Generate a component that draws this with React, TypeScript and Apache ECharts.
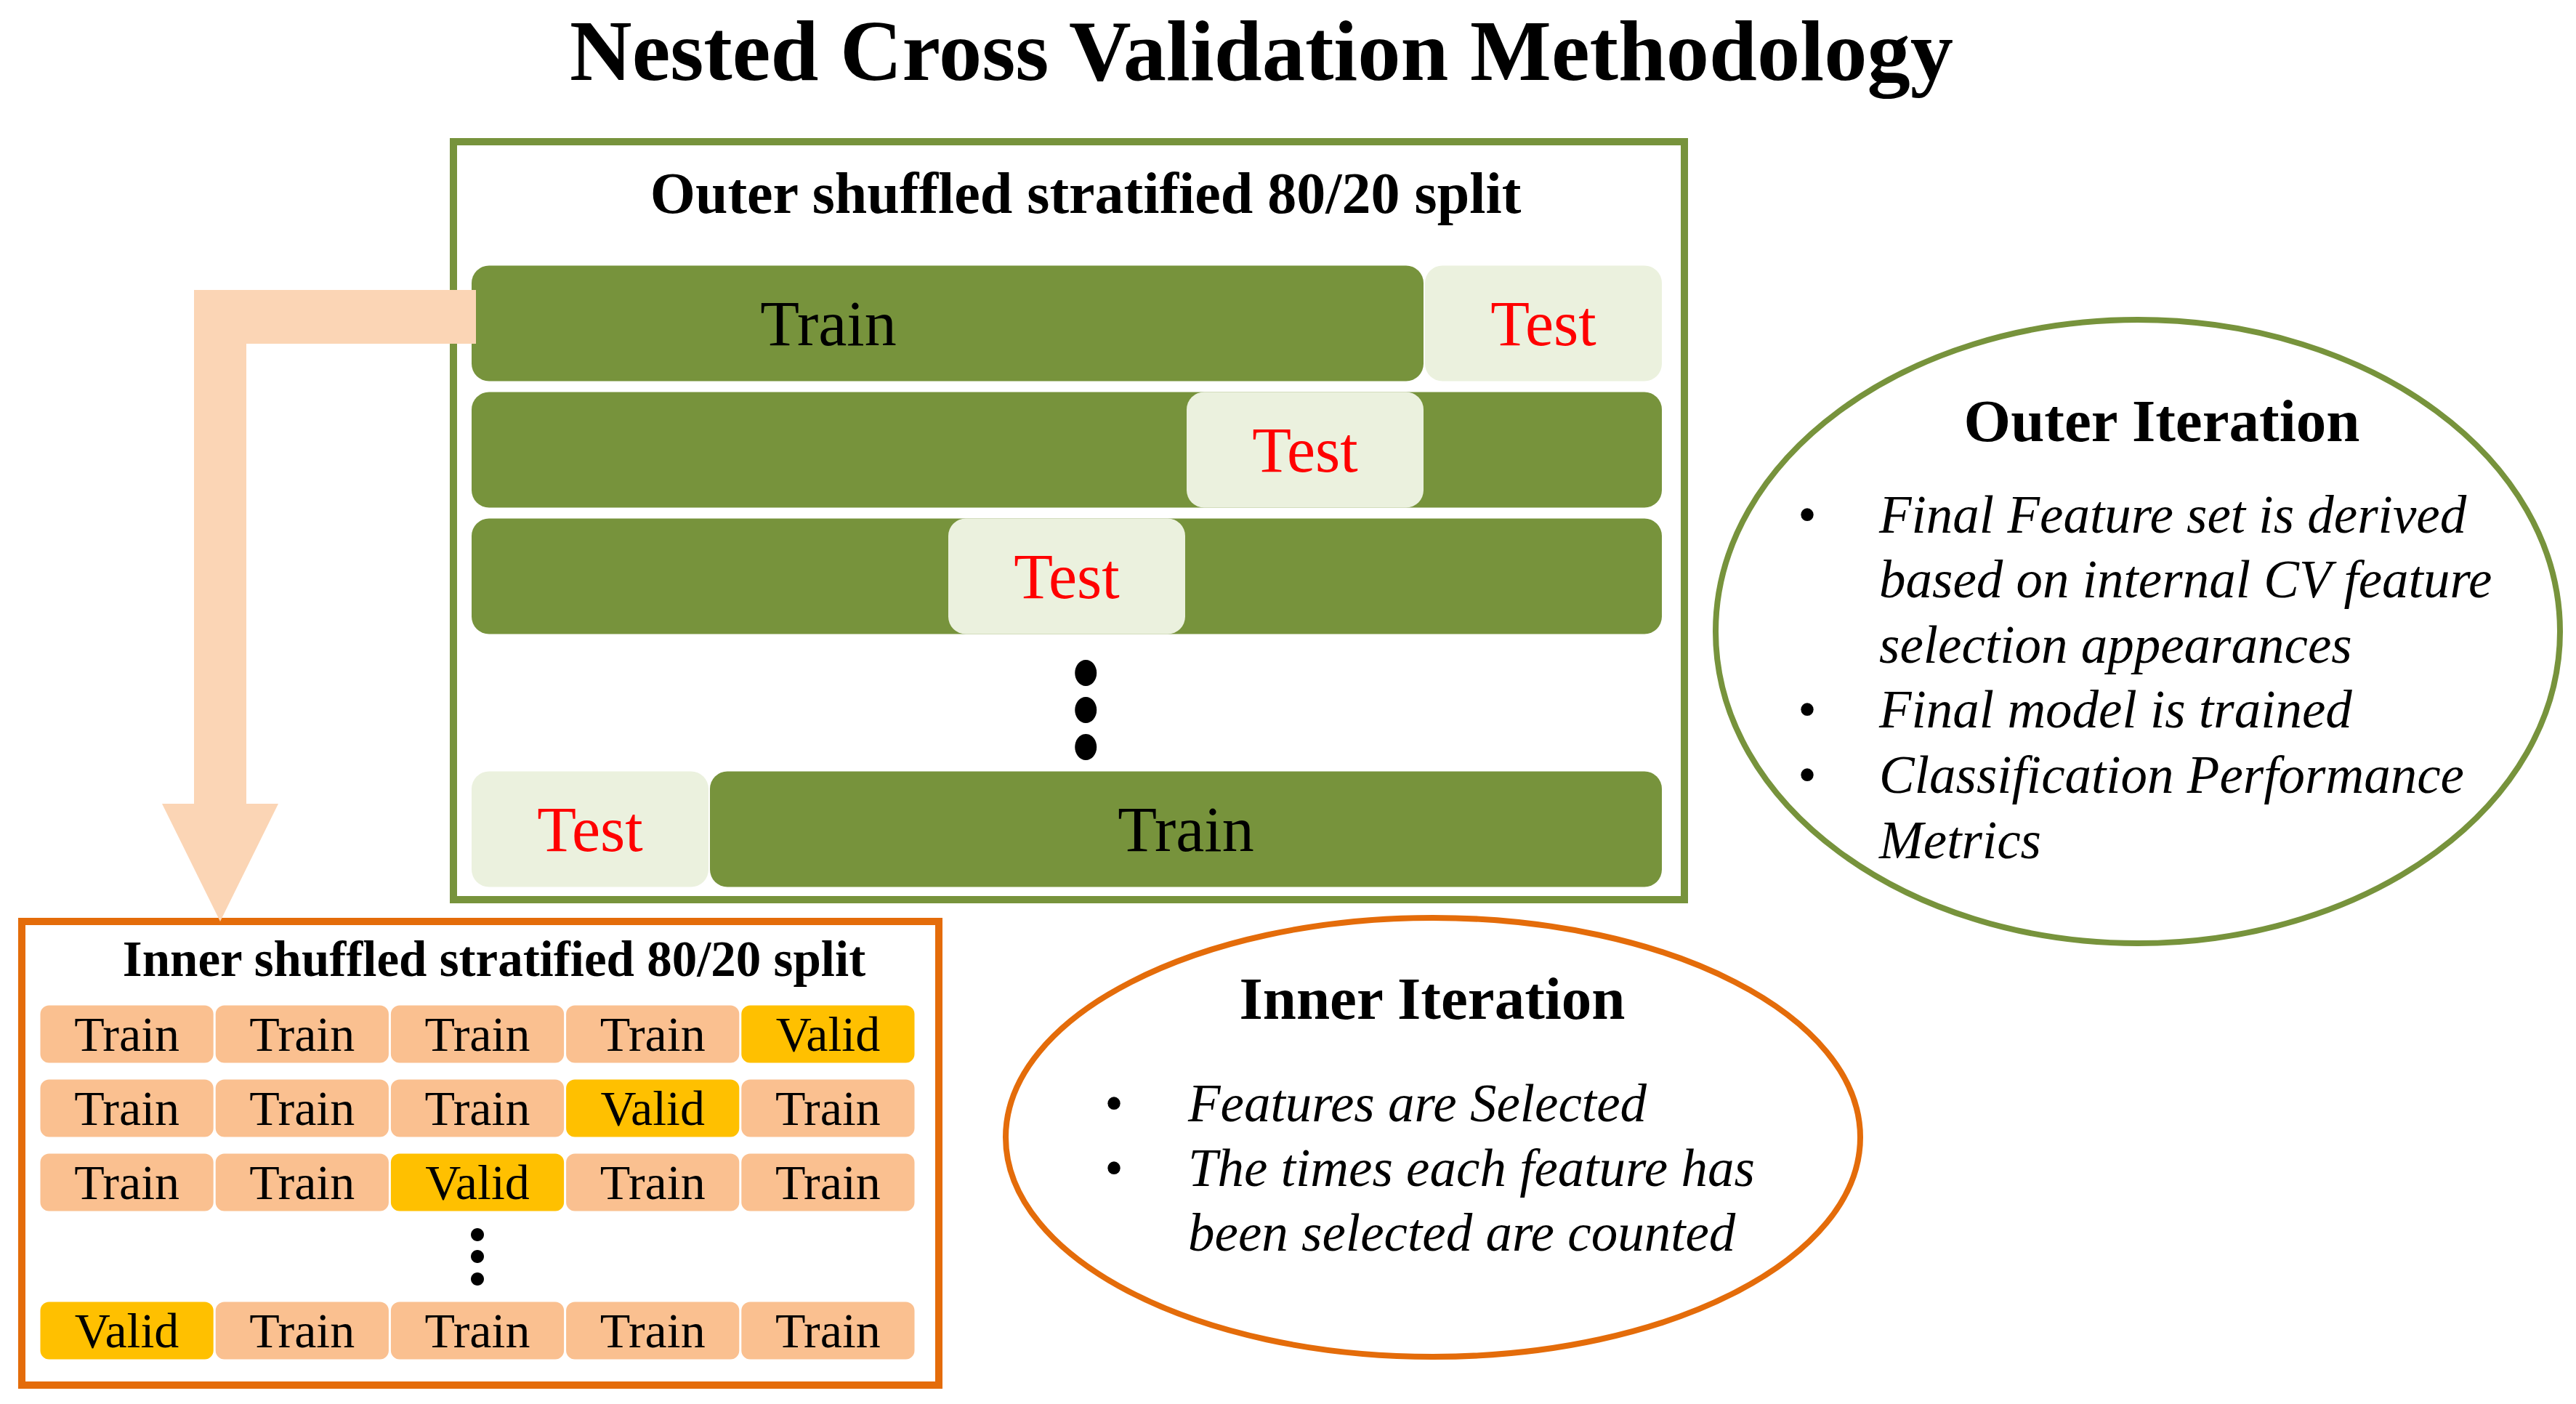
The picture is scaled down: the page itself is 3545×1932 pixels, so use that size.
import React, { useEffect, useRef } from "react";
import * as echarts from "echarts";

// ---------- data ----------
const mainTitle = "Nested Cross Validation Methodology";
const outerBoxTitle = "Outer shuffled stratified 80/20 split";
const innerBoxTitle = "Inner shuffled stratified 80/20 split";

const outerSplits = ["Split 1", "Split 2", "Split 3", "…", "Split k"];
const outerFoldCount = 5;
// [startFold, endFold, splitIndex]
const outerTrainBlocks = [
  [0, 4, 0],
  [0, 5, 1],
  [0, 5, 2],
  [1, 5, 4],
];
const outerTestBlocks = [
  [4, 5, 0],
  [3, 4, 1],
  [2, 3, 2],
  [0, 1, 4],
];
// [foldPosition, splitIndex, text]
const outerLabels: [number, number, string][] = [
  [1.5, 0, "Train"],
  [4.5, 0, "Test"],
  [3.5, 1, "Test"],
  [2.5, 2, "Test"],
  [0.5, 4, "Test"],
  [3, 4, "Train"],
];
const outerEllipsis = [[2.58, 3]];

const innerSplits = ["Split 1", "Split 2", "Split 3", "…", "Split k"];
const innerFoldCount = 5;
const innerValidFold: (number | null)[] = [4, 3, 2, null, 0];
const innerEllipsis = [[2.5, 3]];

const outerIterationTitle = "Outer Iteration";
const outerIterationLines: [boolean, string][] = [
  [true, "Final Feature set is derived"],
  [false, "based on internal CV feature"],
  [false, "selection appearances"],
  [true, "Final model is trained"],
  [true, "Classification Performance"],
  [false, "Metrics"],
];
const innerIterationTitle = "Inner Iteration";
const innerIterationLines: [boolean, string][] = [
  [true, "Features are Selected"],
  [true, "The times each feature has"],
  [false, "been selected are counted"],
];

// ---------- styles ----------
const SERIF = '"Liberation Serif", "Times New Roman", serif';
const GREEN = "#77933C";
const TEST_BG = "#EBF1DE";
const ORANGE = "#E46C0A";
const PEACH = "#FAC090";
const VALID = "#FFC000";
const ARROW = "#FBD5B5";

function blockSeries(
  axis: number,
  data: number[][],
  color: string,
  hRatio: number,
  radius: number,
  gap: number
) {
  return {
    type: "custom",
    xAxisIndex: axis,
    yAxisIndex: axis,
    data,
    encode: { x: [0, 1], y: 2 },
    z: 3,
    renderItem: (params: any, api: any) => {
      const s = api.value(0);
      const e = api.value(1);
      const r = api.value(2);
      const a = api.coord([s, r]);
      const b = api.coord([e, r]);
      const band = api.size([0, 1])[1];
      const h = band * hRatio;
      return {
        type: "rect",
        shape: {
          x: a[0] + gap,
          y: a[1] - h / 2,
          width: b[0] - a[0] - 2 * gap,
          height: h,
          r: radius,
        },
        style: { fill: color },
      };
    },
  };
}

function labelSeries(
  axis: number,
  items: [number, number, string][],
  fontSize: number,
  colorOf: (t: string) => string
) {
  return {
    type: "custom",
    xAxisIndex: axis,
    yAxisIndex: axis,
    data: items.map((d) => [d[0], d[1]]),
    encode: { x: 0, y: 1 },
    z: 5,
    renderItem: (params: any, api: any) => {
      const p = api.coord([api.value(0), api.value(1)]);
      const t = items[params.dataIndex][2];
      return {
        type: "text",
        x: p[0],
        y: p[1],
        style: {
          text: t,
          fill: colorOf(t),
          fontSize,
          fontFamily: SERIF,
          align: "center",
          verticalAlign: "middle",
          textAlign: "center",
          textVerticalAlign: "middle",
        },
      };
    },
  };
}

function dotsSeries(axis: number, data: number[][], offsets: number[], rx: number, ry: number) {
  return {
    type: "custom",
    xAxisIndex: axis,
    yAxisIndex: axis,
    data,
    encode: { x: 0, y: 1 },
    z: 5,
    renderItem: (params: any, api: any) => {
      const p = api.coord([api.value(0), api.value(1)]);
      return {
        type: "group",
        children: offsets.map((o) => ({
          type: "ellipse",
          shape: { cx: p[0], cy: p[1] + o, rx, ry },
          style: { fill: "#000" },
        })),
      };
    },
  };
}

function textEl(
  text: string,
  x: number,
  y: number,
  fontSize: number,
  opts: { bold?: boolean; italic?: boolean; align?: string; color?: string } = {}
) {
  const align = opts.align || "center";
  return {
    type: "text",
    x,
    y,
    z: 20,
    style: {
      text,
      fill: opts.color || "#000",
      fontSize,
      fontFamily: SERIF,
      fontWeight: opts.bold ? "bold" : "normal",
      fontStyle: opts.italic ? "italic" : "normal",
      align,
      verticalAlign: "middle",
      textAlign: align,
      textVerticalAlign: "middle",
    },
  };
}

function bulletText(lines: [boolean, string][], bulletX: number, textX: number, y0: number, step: number, fs: number) {
  const els: any[] = [];
  lines.forEach(([b, t], i) => {
    const y = y0 + i * step;
    if (b) els.push(textEl("•", bulletX, y, fs));
    els.push(textEl(t, textX, y, fs, { italic: true, align: "left" }));
  });
  return els;
}

export default function App() {
  const ref = useRef<HTMLDivElement>(null);
  useEffect(() => {
    document.body.style.margin = "0";
    const chart = echarts.init(ref.current!, null, { renderer: "svg" });

    const innerTrainCells: number[][] = [];
    const innerValidCells: number[][] = [];
    const innerLabels: [number, number, string][] = [];
    innerValidFold.forEach((v, row) => {
      if (v === null) return;
      for (let f = 0; f < innerFoldCount; f++) {
        const isValid = f === v;
        (isValid ? innerValidCells : innerTrainCells).push([f, f + 1, row]);
        innerLabels.push([f + 0.5, row, isValid ? "Valid" : "Train"]);
      }
    });

    const arrowPts = [
      [267, 399],
      [655, 399],
      [655, 473],
      [339, 473],
      [339, 1106],
      [383, 1106],
      [303, 1268],
      [223, 1106],
      [267, 1106],
    ];

    const option: any = {
      animation: false,
      backgroundColor: "#ffffff",
      grid: [
        { left: 648, top: 358, width: 1640, height: 870 },
        { left: 54, top: 1372, width: 1206, height: 510 },
      ],
      xAxis: [
        { type: "value", gridIndex: 0, min: 0, max: outerFoldCount, show: false },
        { type: "value", gridIndex: 1, min: 0, max: innerFoldCount, show: false },
      ],
      yAxis: [
        { type: "category", gridIndex: 0, data: outerSplits, inverse: true, show: false },
        { type: "category", gridIndex: 1, data: innerSplits, inverse: true, show: false },
      ],
      series: [
        blockSeries(0, outerTrainBlocks, GREEN, 0.914, 24, 1),
        blockSeries(0, outerTestBlocks, TEST_BG, 0.914, 24, 1),
        labelSeries(0, outerLabels, 88, (t) => (t === "Test" ? "#FF0000" : "#000000")),
        dotsSeries(0, outerEllipsis, [-41, 10, 61], 15, 18),
        blockSeries(1, innerTrainCells, PEACH, 0.775, 12, 1.5),
        blockSeries(1, innerValidCells, VALID, 0.775, 12, 1.5),
        labelSeries(1, innerLabels, 68, () => "#000000"),
        dotsSeries(1, innerEllipsis, [-30, 0, 31], 9, 9),
      ],
      graphic: {
        elements: [
          {
            type: "rect",
            z: 1,
            shape: { x: 624, y: 195, width: 1694, height: 1043 },
            style: { fill: "rgba(0,0,0,0)", stroke: GREEN, lineWidth: 10 },
          },
          {
            type: "rect",
            z: 1,
            shape: { x: 30, y: 1268, width: 1262, height: 638 },
            style: { fill: "rgba(0,0,0,0)", stroke: ORANGE, lineWidth: 10 },
          },
          {
            type: "polygon",
            z: 10,
            shape: { points: arrowPts },
            style: { fill: ARROW },
          },
          {
            type: "ellipse",
            z: 1,
            shape: { cx: 2942, cy: 869, rx: 581, ry: 429 },
            style: { fill: "rgba(0,0,0,0)", stroke: GREEN, lineWidth: 8 },
          },
          {
            type: "ellipse",
            z: 1,
            shape: { cx: 1972, cy: 1565, rx: 588, ry: 302 },
            style: { fill: "rgba(0,0,0,0)", stroke: ORANGE, lineWidth: 8 },
          },
          textEl(mainTitle, 1736, 70, 118.5, { bold: true }),
          textEl(outerBoxTitle, 1494, 266, 80, { bold: true }),
          textEl(innerBoxTitle, 680, 1320, 69, { bold: true }),
          textEl(outerIterationTitle, 2975, 579, 83, { bold: true }),
          textEl(innerIterationTitle, 1971, 1374, 83, { bold: true }),
          ...bulletText(outerIterationLines, 2487, 2586, 708, 89.6, 73),
          ...bulletText(innerIterationLines, 1533, 1635, 1518, 89, 73),
        ],
      },
    };

    chart.setOption(option);
    return () => chart.dispose();
  }, []);

  return <div ref={ref} style={{ width: 3545, height: 1932, background: "#fff" }} />;
}
